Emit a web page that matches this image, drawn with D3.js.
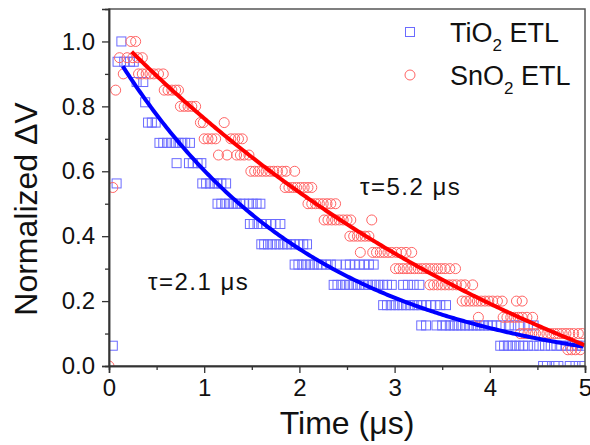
<!DOCTYPE html>
<html>
<head>
<meta charset="utf-8">
<script src="https://cdn.jsdelivr.net/npm/d3@7"></script>
<style>
  body { margin: 0; background: #fff; }
  svg { display: block; font-family: "Liberation Sans", Arial, sans-serif; }
</style>
</head>
<body>
<div id="chart"></div>
<script>
// quantized transient photovoltage decay, read level by level off the picture
var tio2Levels = [0, 0.0625, 0.125, 0.1875, 0.25, 0.3125, 0.375, 0.4375, 0.5, 0.5625, 0.625, 0.6875, 0.75, 0.8125, 0.875, 0.9375, 1.0];
var tio2Times = [
    [4.56, 4.60, 4.68, 4.72, 4.84, 4.90, 4.97],
    [0.04, 4.11, 4.15, 4.19, 4.23, 4.27, 4.31, 4.35, 4.40, 4.46, 4.52, 4.58, 4.64, 4.70, 4.75, 4.80, 4.86, 4.92, 4.97],
    [3.28, 3.33, 3.44, 3.50, 3.54, 3.58, 3.62, 3.66, 3.70, 3.74, 3.78, 3.82, 3.86, 3.90, 3.94, 3.98, 4.02, 4.07, 4.12, 4.20, 4.26, 4.32, 4.40, 4.46],
    [2.88, 2.92, 2.96, 3.00, 3.04, 3.08, 3.12, 3.16, 3.20, 3.24, 3.28, 3.33, 3.38, 3.43, 3.48, 3.54],
    [2.36, 2.40, 2.44, 2.48, 2.52, 2.56, 2.60, 2.64, 2.68, 2.72, 2.76, 2.80, 2.84, 2.88, 2.92, 2.97, 3.09, 3.14, 3.20, 3.26],
    [1.95, 1.99, 2.03, 2.07, 2.11, 2.15, 2.19, 2.23, 2.28, 2.33, 2.39, 2.49, 2.53, 2.58, 2.63, 2.68, 2.73, 2.78],
    [1.60, 1.63, 1.67, 1.71, 1.75, 1.79, 1.83, 1.87, 1.91, 1.95, 2.00, 2.04, 2.08],
    [1.48, 1.52, 1.56, 1.60, 1.65, 1.70, 1.75, 1.80],
    [1.14, 1.18, 1.22, 1.26, 1.30, 1.34, 1.38, 1.42, 1.47, 1.51, 1.55, 1.59],
    [0.08, 0.98, 1.02, 1.06, 1.10, 1.14, 1.18, 1.23],
    [0.71, 0.84, 0.88, 0.93, 0.97],
    [0.53, 0.57, 0.61, 0.65, 0.69, 0.73, 0.77, 0.80, 0.85],
    [0.41, 0.45, 0.49],
    [0.38],
    [0.29, 0.36],
    [0.09, 0.16, 0.22, 0.26],
    [0.13]
];

var sno2Levels = [0, 0.05, 0.1, 0.15, 0.2, 0.25, 0.3, 0.35, 0.4, 0.45, 0.5, 0.55, 0.6, 0.65, 0.7, 0.75, 0.8, 0.85, 0.9, 0.95, 1.0];
var sno2Times = [
    [0.0],
    [4.82, 4.86, 4.90, 4.95],
    [4.32, 4.36, 4.40, 4.44, 4.48, 4.52, 4.56, 4.60, 4.64, 4.68, 4.72, 4.76, 4.80, 4.84, 4.88, 4.93, 4.97],
    [3.88, 4.14, 4.18, 4.22, 4.26, 4.30, 4.34, 4.39, 4.45],
    [3.71, 3.75, 3.79, 3.83, 3.87, 3.91, 3.95, 3.99, 4.03, 4.08, 4.13, 4.28, 4.34],
    [3.37, 3.41, 3.45, 3.49, 3.53, 3.57, 3.61, 3.65, 3.70, 3.74, 3.82],
    [3.01, 3.05, 3.09, 3.13, 3.17, 3.21, 3.25, 3.29, 3.33, 3.37, 3.41, 3.45, 3.49, 3.53, 3.58, 3.64],
    [2.64, 2.77, 2.81, 2.85, 2.89, 2.93, 2.97, 3.02, 3.07, 3.12, 3.18],
    [2.53, 2.57, 2.61, 2.65, 2.69, 2.73],
    [2.26, 2.30, 2.34, 2.38, 2.42, 2.46, 2.50, 2.54, 2.76],
    [2.09, 2.13, 2.17, 2.21, 2.25, 2.29, 2.33, 2.38],
    [0.04, 1.85, 1.89, 1.93, 1.97, 2.01, 2.05, 2.09, 2.13],
    [1.49, 1.53, 1.57, 1.61, 1.65, 1.69, 1.73, 1.77, 1.82, 1.86, 1.95],
    [1.15, 1.24, 1.34, 1.38, 1.42, 1.47],
    [1.00, 1.04, 1.08, 1.12, 1.28, 1.32, 1.36, 1.40],
    [0.96, 0.99, 1.21],
    [0.75, 0.79, 0.83, 0.87, 0.91],
    [0.07, 0.58, 0.62, 0.66, 0.70, 0.73],
    [0.15, 0.31, 0.35, 0.39, 0.43, 0.47, 0.52, 0.57],
    [0.11, 0.19, 0.25, 0.30, 0.35],
    [0.23, 0.28]
];

// single-exponential fits  y = offset + amp * exp(-t / tau)
var fitTau = [2.1, 5.2];
var fitAmp = [1.028, 1.578];
var fitOffset = [-0.036, -0.539];
var fitStart = [0.144, 0.238];
var fitEnd = 5;

var xTicks = [0, 1, 2, 3, 4, 5];
var xMinorTicks = [0.5, 1.5, 2.5, 3.5, 4.5];
var yTicks = [0, 0.2, 0.4, 0.6, 0.8, 1.0];
var yMinorTicks = [0.1, 0.3, 0.5, 0.7, 0.9];

(function() {
    var width = 590, height = 445;
    var pLeft = 109, pRight = 585, pTop = 9, pBottom = 366;

    var svg = d3.select('#chart').append('svg').attr('width', width).attr('height', height);

    var x = d3.scaleLinear().domain([0, 5]).range([pLeft, pRight]);
    var y = d3.scaleLinear().domain([0, 1.1]).range([pBottom, pTop]);

    function flatten(levels, times) {
        var pts = [];
        levels.forEach(function(v, i) {
            times[i].forEach(function(t) { pts.push({ t: t, v: v }); });
        });
        return pts;
    }
    var tio2 = flatten(tio2Levels, tio2Times);
    var sno2 = flatten(sno2Levels, sno2Times);

    svg.append('clipPath').attr('id', 'plot-clip').append('rect')
        .attr('x', pLeft).attr('y', pTop).attr('width', pRight - pLeft).attr('height', pBottom - pTop);

    var plot = svg.append('g').attr('clip-path', 'url(#plot-clip)');

    // markers
    plot.selectAll('rect.tio2').data(tio2).enter().append('rect')
        .attr('class', 'tio2')
        .attr('x', function(d) { return x(d.t) - 4.5; })
        .attr('y', function(d) { return y(d.v) - 4.5; })
        .attr('width', 9).attr('height', 9)
        .attr('fill', 'none').attr('stroke', '#6b6bff').attr('stroke-width', 1);

    plot.selectAll('circle.sno2').data(sno2).enter().append('circle')
        .attr('class', 'sno2')
        .attr('cx', function(d) { return x(d.t); })
        .attr('cy', function(d) { return y(d.v); })
        .attr('r', 5)
        .attr('fill', 'none').attr('stroke', '#ff6464').attr('stroke-width', 1);

    // fit curves
    var fitColors = ['#0000ff', '#ff0000'];
    var line = d3.line().x(function(d) { return x(d[0]); }).y(function(d) { return y(d[1]); });
    fitTau.forEach(function(tau, i) {
        var pts = d3.range(fitStart[i], fitEnd + 0.001, 0.02).map(function(t) {
            return [t, fitOffset[i] + fitAmp[i] * Math.exp(-t / tau)];
        });
        plot.append('path').datum(pts).attr('d', line)
            .attr('fill', 'none').attr('stroke', fitColors[i]).attr('stroke-width', 4);
    });

    // frame
    svg.append('rect').attr('x', pLeft).attr('y', pTop).attr('width', pRight - pLeft).attr('height', pBottom - pTop)
        .attr('fill', 'none').attr('stroke', '#555').attr('stroke-width', 1.5);

    // axes
    svg.append('g').attr('transform', 'translate(0,' + pBottom + ')')
        .call(d3.axisBottom(x).tickValues(xTicks).tickFormat(d3.format('d')).tickSize(7).tickPadding(6));
    svg.append('g').attr('transform', 'translate(0,' + pBottom + ')')
        .call(d3.axisBottom(x).tickValues(xMinorTicks).tickFormat('').tickSize(4));
    svg.append('g').attr('transform', 'translate(' + pLeft + ',0)')
        .call(d3.axisLeft(y).tickValues(yTicks).tickFormat(d3.format('.1f')).tickSize(7).tickPadding(7));
    svg.append('g').attr('transform', 'translate(' + pLeft + ',0)')
        .call(d3.axisLeft(y).tickValues(yMinorTicks).tickFormat('').tickSize(4));

    svg.selectAll('.domain').attr('stroke', '#333').attr('stroke-width', 1.5);
    svg.selectAll('.tick line').attr('stroke', '#333').attr('stroke-width', 1.3);
    svg.selectAll('.tick text').attr('font-size', 24).attr('font-family', '"Liberation Sans", Arial, sans-serif').attr('fill', '#111');

    // axis titles
    svg.append('text').attr('x', (pLeft + pRight) / 2).attr('y', 434)
        .attr('text-anchor', 'middle').attr('font-size', 32).attr('fill', '#111')
        .text('Time (μs)');
    svg.append('text').attr('transform', 'translate(37,209) rotate(-90)')
        .attr('text-anchor', 'middle').attr('font-size', 32).attr('fill', '#111')
        .text('Normalized ΔV');

    // lifetime annotations
    svg.append('text').attr('x', 148).attr('y', 290).attr('font-size', 24).attr('letter-spacing', 1.5)
        .attr('fill', '#111').text('τ=2.1 μs');
    svg.append('text').attr('x', 360).attr('y', 195).attr('font-size', 24).attr('letter-spacing', 1.5)
        .attr('fill', '#111').text('τ=5.2 μs');

    // legend
    var legend = svg.append('g');
    var legendRows = [
        { base: 'TiO', rest: ' ETL', y: 32 },
        { base: 'SnO', rest: ' ETL', y: 75 }
    ];
    legend.append('rect').attr('x', 405.5).attr('y', legendRows[0].y - 4.5).attr('width', 9).attr('height', 9)
        .attr('fill', 'none').attr('stroke', '#6b6bff').attr('stroke-width', 1);
    legend.append('circle').attr('cx', 410).attr('cy', legendRows[1].y).attr('r', 5)
        .attr('fill', 'none').attr('stroke', '#ff6464').attr('stroke-width', 1);
    legendRows.forEach(function(r) {
        var t = legend.append('text').attr('x', 450).attr('y', r.y + 10).attr('font-size', 27).attr('fill', '#111');
        t.append('tspan').text(r.base);
        t.append('tspan').attr('font-size', 17).attr('dy', 9).text('2');
        t.append('tspan').attr('dy', -9).text(r.rest);
    });
})();
</script>
</body>
</html>
